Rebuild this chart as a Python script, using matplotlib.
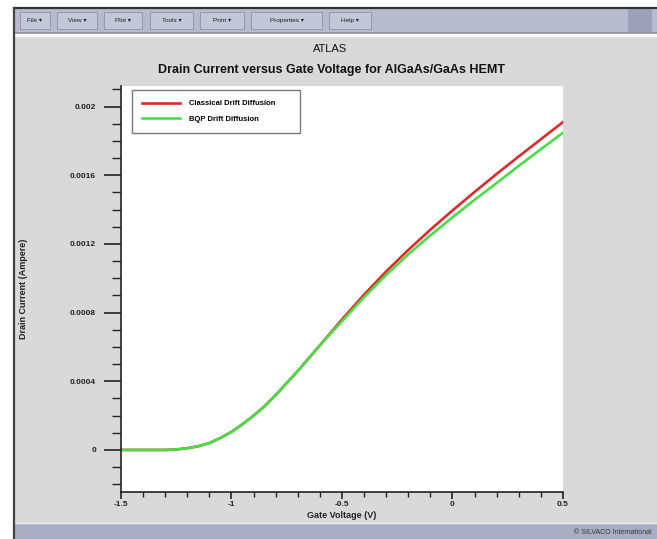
import matplotlib
matplotlib.use('Agg')
import matplotlib.pyplot as plt
from matplotlib.patches import Rectangle
from matplotlib.ticker import MultipleLocator

# values
gate_v = [-1.5, -1.4, -1.3, -1.25, -1.2, -1.15, -1.1, -1.05, -1.0, -0.95, -0.9, -0.85,
          -0.8, -0.7, -0.6, -0.5, -0.4, -0.3, -0.2, -0.1, 0.0, 0.1, 0.2, 0.3, 0.4, 0.5]
classical = [0.0, 0.0, 0.0, 0.000003, 0.00001, 0.000022, 0.00004, 0.00007, 0.000105,
             0.00015, 0.0002, 0.000255, 0.00032, 0.00046, 0.00061, 0.00076, 0.000905,
             0.00104, 0.001165, 0.001283, 0.001395, 0.001503, 0.001608, 0.00171, 0.00181, 0.00191]
bqp = [0.0, 0.0, 0.0, 0.000003, 0.00001, 0.000022, 0.00004, 0.00007, 0.000105,
       0.00015, 0.0002, 0.000255, 0.00032, 0.00046, 0.00061, 0.00075, 0.00089,
       0.00102, 0.00114, 0.00125, 0.001355, 0.001457, 0.001555, 0.001655, 0.001752, 0.001848]
series_names = ['Classical Drift Diffusion', 'BQP Drift Diffusion']
y_ticks = [0, 0.0004, 0.0008, 0.0012, 0.0016, 0.002]
y_tick_labels = ['0', '0.0004', '0.0008', '0.0012', '0.0016', '0.002']
x_ticks = [-1.5, -1.0, -0.5, 0.0, 0.5]
x_tick_labels = ['-1.5', '-1', '-0.5', '0', '0.5']
menu_items = ['File', 'View', 'Plot', 'Tools', 'Print', 'Properties', 'Help']

plt.rcParams['font.family'] = ['Liberation Sans', 'DejaVu Sans']

W, H = 657, 539
fig = plt.figure(figsize=(W / 100, H / 100), dpi=100, facecolor='white')


def box(x0, y0, x1, y1, **kw):
    fig.add_artist(Rectangle((x0 / W, 1 - y1 / H), (x1 - x0) / W, (y1 - y0) / H,
                             transform=fig.transFigure, zorder=-2, **kw))


def hline(x0, x1, y, **kw):
    fig.add_artist(plt.Line2D([x0 / W, x1 / W], [1 - y / H, 1 - y / H],
                              transform=fig.transFigure, zorder=-1, **kw))


# window chrome
box(15, 36, 657, 524, facecolor='#d9d9d9', edgecolor='none')
box(15, 8, 657, 33, facecolor='#b7bbcd', edgecolor='none')
box(628, 9, 652, 32, facecolor='#9da1b5', edgecolor='none')
hline(15, 657, 33, color='#8c90a4', lw=1.2)
hline(15, 657, 35.5, color='#f2f2f2', lw=1)
box(15, 524, 657, 539, facecolor='#aaaec2', edgecolor='none')
hline(15, 657, 523, color='#f0f0f0', lw=1)
hline(14, 657, 8, color='#333333', lw=1.6)
fig.add_artist(plt.Line2D([14 / W, 14 / W], [1 - 8 / H, 0], transform=fig.transFigure,
                          color='#444444', lw=1.6, zorder=-1))

btn_x = [(20, 50), (57, 97), (104, 142), (150, 193), (200, 244), (251, 322), (329, 371)]
for (x0, x1), name in zip(btn_x, menu_items):
    box(x0, 12, x1, 29, facecolor='#c3c7d7', edgecolor='#8e92a6', lw=0.6)
    fig.text((x0 + x1) / 2 / W, 1 - 20.5 / H, name + ' \u25be', ha='center', va='center',
             fontsize=4.6, color='#222222')

fig.text(652 / W, 1 - 532 / H, '\u00a9 SILVACO International', ha='right', va='center',
         fontsize=5, color='#333333')

fig.text(330 / W, 1 - 49 / H, 'ATLAS', ha='center', va='center', fontsize=8, color='#111111')
fig.text(331 / W, 1 - 70 / H, 'Drain Current versus Gate Voltage for AlGaAs/GaAs HEMT',
         ha='center', va='center', fontsize=9, fontweight='bold', color='#111111')

# plot area
ax = fig.add_axes([121 / W, 1 - 492 / H, 442 / W, 406 / H])
ax.set_facecolor('white')
ax.plot(gate_v, classical, color='#dd2b2b', lw=1.9, label=series_names[0], solid_joinstyle='round')
ax.plot(gate_v, bqp, color='#46e046', lw=1.9, label=series_names[1], solid_joinstyle='round')

ax.set_xlim(-1.5, 0.5)
ax.set_ylim(-0.000245, 0.00212)
ax.set_xticks(x_ticks)
ax.set_xticklabels(x_tick_labels)
ax.set_yticks(y_ticks)
ax.set_yticklabels(y_tick_labels)
ax.xaxis.set_minor_locator(MultipleLocator(0.1))
ax.yaxis.set_minor_locator(MultipleLocator(0.0001))

for side in ['top', 'right']:
    ax.spines[side].set_visible(False)
for side in ['left', 'bottom']:
    ax.spines[side].set_color('#222222')
    ax.spines[side].set_linewidth(1.2)

ax.tick_params(axis='y', which='major', direction='out', length=12, width=1.2, pad=6,
               colors='#222222', labelsize=6)
ax.tick_params(axis='y', which='minor', direction='out', length=6.5, width=1.0, colors='#222222')
ax.tick_params(axis='x', which='major', direction='out', length=5, width=1.2, pad=1.5,
               colors='#222222', labelsize=6)
ax.tick_params(axis='x', which='minor', direction='out', length=3.5, width=1.0, colors='#222222')
for lbl in ax.get_xticklabels() + ax.get_yticklabels():
    lbl.set_fontweight('bold')

ax.set_xlabel('Gate Voltage (V)', fontsize=6.5, fontweight='bold', color='#222222')
ax.set_ylabel('Drain Current (Ampere)', fontsize=6.5, fontweight='bold', color='#222222')
ax.xaxis.set_label_coords(0.5, -0.047)
ax.yaxis.set_label_coords(-0.21, 0.5)

leg = ax.legend(loc='upper left', bbox_to_anchor=(0.025, 0.99, 0.38, 0.0), mode='expand',
                prop={'weight': 'bold', 'size': 5.5}, fancybox=False,
                edgecolor='#7a7a7a', framealpha=1, handlelength=5.0, handletextpad=1.2,
                labelspacing=1.1, borderpad=1.3, borderaxespad=0)
leg.get_frame().set_linewidth(1.0)

fig.savefig('out.png', dpi=100, facecolor='white')
